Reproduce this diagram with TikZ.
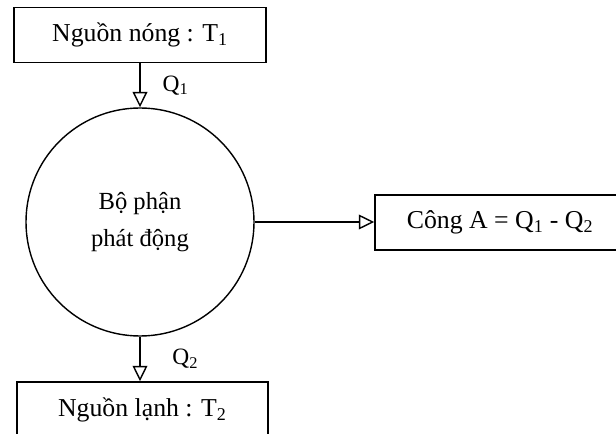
\documentclass[tikz,border=0pt]{standalone}
\usepackage{fontspec}
\setmainfont{Liberation Serif}
\usetikzlibrary{positioning,arrows.meta}
\tikzset{
  srcbox/.style={draw,line width=1.3pt,minimum width=7.56cm,minimum height=1.64cm,
                 inner sep=0pt,font=\fontsize{22}{26}\selectfont},
  enginecirc/.style={draw,circle,line width=1.2pt,minimum size=6.84cm,align=center,
                 font=\fontsize{21}{31}\selectfont},
  flowarrow/.style={line width=1.2pt,-{Triangle[open,length=0.46cm,width=0.44cm,line width=1.2pt]}},
  qlabel/.style={font=\fontsize{20}{22}\selectfont,inner sep=0pt}
}

\begin{document}
\begin{tikzpicture}
        \useasboundingbox (0,0) rectangle (18.48,12.99);
        \node[srcbox] (hot) at (4.2,11.94) {Nguồn nóng : T\textsubscript{1}};
        \node[enginecirc] (engine) at (4.2,6.33) {Bộ phận\\phát động};
        \node[srcbox,minimum width=7.5cm,minimum height=1.65cm] (work)
          at (15.0,6.31) {Công A = Q\textsubscript{1} - Q\textsubscript{2}};
        \node[srcbox,minimum width=7.53cm,minimum height=1.68cm] (cold)
          at (4.27,0.69) {Nguồn lạnh : T\textsubscript{2}};

        \draw[flowarrow] (hot.south) -- (engine.north)
          node[qlabel,midway,anchor=west,xshift=0.66cm] (q1) {Q\textsubscript{1}};
        \draw[flowarrow] (engine.south) -- (engine.south |- cold.north)
          node[qlabel,midway,anchor=west,xshift=0.95cm] (q2) {Q\textsubscript{2}};
        \draw[flowarrow] (engine.east) -- (engine.east -| work.west);
      \end{tikzpicture}
\end{document}
